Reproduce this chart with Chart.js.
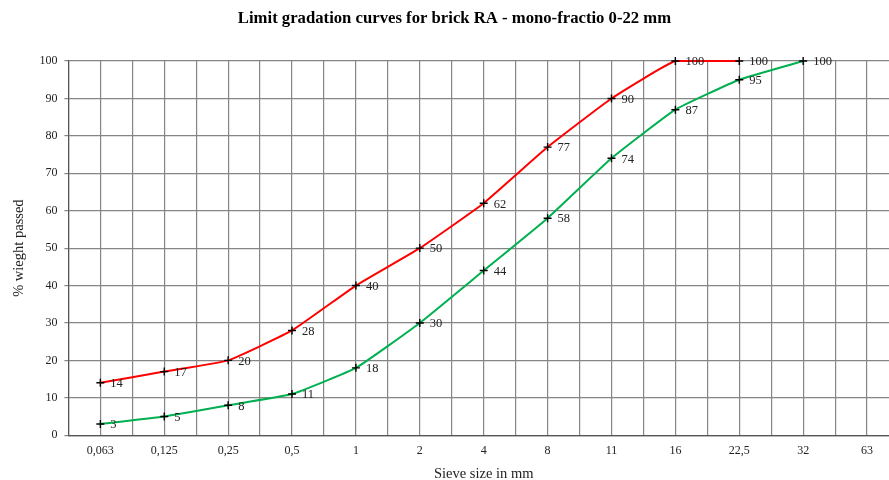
<!DOCTYPE html>
<html>
<head>
<meta charset="utf-8">
<script src="https://cdn.jsdelivr.net/npm/chart.js@4/dist/chart.umd.min.js"></script>
<style>
  html, body { margin: 0; padding: 0; background: #fff; overflow: hidden; }
  #wrap { width: 916px; height: 480px; }
</style>
</head>
<body>
<div id="wrap"><canvas id="gradationChart"></canvas></div>
<script>
const sieveSizes = ['0,063', '0,125', '0,25', '0,5', '1', '2', '4', '8', '11', '16', '22,5', '32', '63'];
const upperLimit = [14, 17, 20, 28, 40, 50, 62, 77, 90, 100, 100, null, null];
const lowerLimit = [3, 5, 8, 11, 18, 30, 44, 58, 74, 87, 95, 100, null];
const yTicks = [0, 10, 20, 30, 40, 50, 60, 70, 80, 90, 100];

const serif = 'Liberation Serif';
const gridGrey = '#858585';

function toPoints(values) {
    return values.map((v, i) => ({ x: i, y: v }));
}

// writes each value just right of its marker
const valueLabels = {
    id: 'valueLabels',
    afterDatasetsDraw(chart) {
        const ctx = chart.ctx;
        ctx.save();
        ctx.font = '12.5px ' + serif;
        ctx.fillStyle = '#222';
        ctx.textAlign = 'left';
        ctx.textBaseline = 'middle';
        chart.data.datasets.forEach((ds, i) => {
            const meta = chart.getDatasetMeta(i);
            meta.data.forEach((pt, j) => {
                const v = ds.data[j].y;
                if (v === null || v === undefined) return;
                ctx.fillText(String(v), pt.x + 10, pt.y + 1);
            });
        });
        ctx.restore();
    }
};

const ctx = document.getElementById('gradationChart').getContext('2d');

const gradationChart = new Chart(ctx, {
    type: 'line',
    data: {
        datasets: [
            {
                label: 'upper limit',
                data: toPoints(upperLimit),
                borderColor: '#ff0000',
                borderWidth: 2,
                tension: 0.12,
                clip: false,
                pointStyle: 'cross',
                pointRadius: 4,
                pointBorderColor: '#000',
                pointBorderWidth: 1.4
            },
            {
                label: 'lower limit',
                data: toPoints(lowerLimit),
                borderColor: '#00b050',
                borderWidth: 2,
                tension: 0.12,
                clip: false,
                pointStyle: 'cross',
                pointRadius: 4,
                pointBorderColor: '#000',
                pointBorderWidth: 1.4
            }
        ]
    },
    options: {
        responsive: true,
        maintainAspectRatio: false,
        animation: false,
        layout: { padding: { left: 10, right: 17, top: 4, bottom: -3 } },
        plugins: {
            legend: { display: false },
            tooltip: { enabled: false },
            title: {
                display: true,
                text: 'Limit gradation curves for brick RA - mono-fractio 0-22 mm',
                color: '#000',
                font: { family: serif, size: 16.7, weight: 'bold' },
                padding: { top: 5, bottom: 32 }
            }
        },
        scales: {
            x: {
                type: 'linear',
                min: -0.5,
                max: 12.5,
                grid: { color: gridGrey, lineWidth: 1.2, drawTicks: false },
                border: { color: '#555', width: 1.2 },
                ticks: {
                    stepSize: 0.5,
                    autoSkip: false,
                    maxRotation: 0,
                    padding: 8,
                    color: '#222',
                    font: { family: serif, size: 12 },
                    callback: (v) => Number.isInteger(v) ? sieveSizes[v] : ''
                },
                title: {
                    display: true,
                    text: 'Sieve size in mm',
                    color: '#222',
                    font: { family: serif, size: 14.5 },
                    padding: { top: 0, bottom: 0 }
                }
            },
            y: {
                min: 0,
                max: 100,
                afterBuildTicks: (axis) => { axis.ticks = yTicks.map(v => ({ value: v })); },
                grid: { color: gridGrey, lineWidth: 1.2, tickLength: 4 },
                border: { color: '#555', width: 1.2 },
                ticks: {
                    padding: 7,
                    color: '#222',
                    font: { family: serif, size: 12 }
                },
                title: {
                    display: true,
                    text: '% wieght passed',
                    color: '#222',
                    font: { family: serif, size: 14.5 },
                    padding: { top: 0, bottom: 5 }
                }
            }
        }
    },
    plugins: [valueLabels]
});
</script>
</body>
</html>
